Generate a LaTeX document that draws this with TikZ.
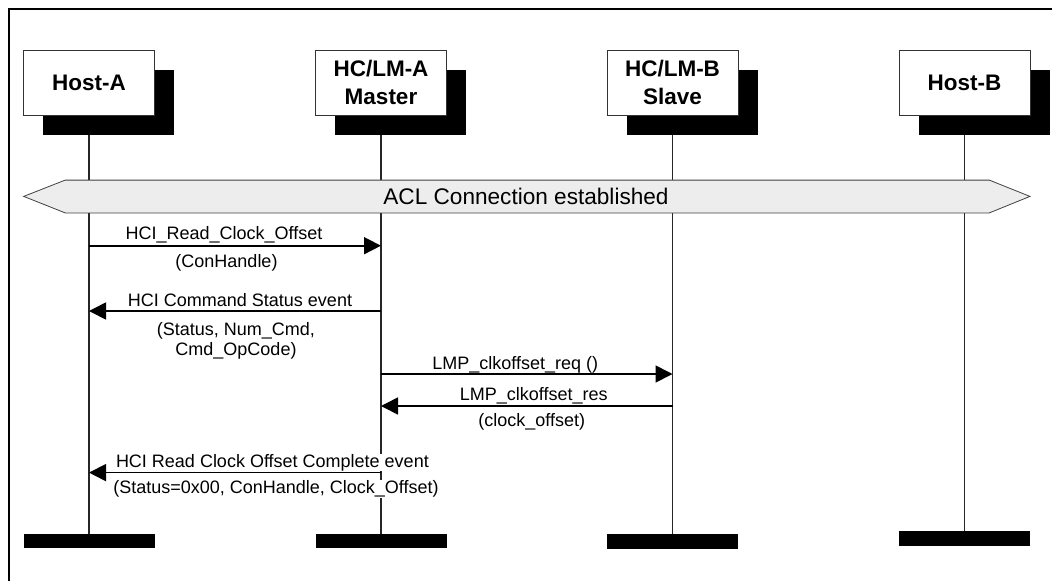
\documentclass[tikz,border=0pt]{standalone}
\usepackage{fontspec}
\setmainfont{Liberation Sans}
\usetikzlibrary{arrows.meta,shadows}

\begin{document}
\begin{tikzpicture}[x=1pt,y=-1pt,
  entity/.style={draw=black!80, line width=0.8pt, fill=white, minimum width=131pt,
    minimum height=65pt, inner sep=0pt, align=center,
    font=\fontsize{22.5}{27.7}\selectfont\bfseries,
    drop shadow={shadow xshift=19.5pt, shadow yshift=-19.5pt, fill=black, opacity=1}},
  endbar/.style={fill=black, draw=none, minimum width=131pt, minimum height=14.6pt,
    inner sep=0pt, anchor=north},
  lifeline/.style={line width=1.3pt, draw=black!85},
  msg/.style={line width=1.7pt, -{Triangle[length=17pt,width=17pt]}},
  lbl/.style={font=\fontsize{18}{20}\selectfont, fill=white, inner sep=0.5pt, anchor=base},
  aclbar/.style={draw=black!75, fill=black!7, line width=0.8pt}]

\useasboundingbox (0,0) rectangle (1052,581);

% frame
\draw[line width=2pt] (8.5,581) -- (8.5,8.5) -- (1052,8.5);

% lifeline centres
\path (89,82.5) coordinate (cA) (381,82.5) coordinate (cB) (672.5,82.5) coordinate (cC) (964.5,82.5) coordinate (cD);

% end bars
\node[endbar] (endA) at (89,533.5) {};
\node[endbar] (endB) at (381,533.5) {};
\node[endbar] (endC) at (672.5,534) {};
\node[endbar] (endD) at (964.5,530.7) {};

% lifelines
\draw[lifeline] (cA) -- (endA.north);
\draw[lifeline] (cB) -- (endB.north);
\draw[lifeline] (cC) -- (endC.north);
\draw[lifeline] (cD) -- (endD.north);

% entity boxes
\node[entity] (hostA) at (cA) {Host-A};
\node[entity] (hclmA) at (cB) {HC/LM-A\\Master};
\node[entity] (hclmB) at (cC) {HC/LM-B\\Slave};
\node[entity] (hostB) at (cD) {Host-B};

% ACL connection bar
\draw[aclbar] (23.7,196.4) -- (65.2,180.1) -- (989.3,180.1) -- (1030,196.4)
  -- (989.3,212.9) -- (65.2,212.9) -- cycle;
\node[anchor=base, font=\fontsize{22.6}{26}\selectfont, inner sep=0pt] (acl) at (526,204.5)
  {ACL Connection established};

% message labels
\node[lbl] (l1a) at (224,239.7) {HCI\_Read\_Clock\_Offset};
\node[lbl] (l1b) at (226.5,267.8) {(ConHandle)};
\node[lbl] (l2a) at (240,306) {HCI Command Status event};
\node[lbl] (l2b) at (235.8,335.4) {(Status, Num\_Cmd,};
\node[lbl] (l2c) at (236,355) {Cmd\_OpCode)};
\node[lbl] (l3a) at (515.3,369.8) {LMP\_clkoffset\_req ()};
\node[lbl] (l4a) at (533.8,400.8) {LMP\_clkoffset\_res};
\node[lbl] (l4b) at (531.7,426.5) {(clock\_offset)};
\node[lbl] (l5a) at (272.4,467.2) {HCI Read Clock Offset Complete event};
\node[lbl] (l5b) at (276,493.3) {(Status=0x00, ConHandle, Clock\_Offset)};

% message anchor points on lifelines
\coordinate (m1s) at (89,245.7);  \coordinate (m1e) at (381,245.7);
\coordinate (m2s) at (381,311);   \coordinate (m2e) at (89,311);
\coordinate (m3s) at (381,374);   \coordinate (m3e) at (672.5,374);
\coordinate (m4s) at (672.5,406); \coordinate (m4e) at (381,406);
\coordinate (m5s) at (381,472.6); \coordinate (m5e) at (89,472.6);

\draw[msg] (m1s) -- (m1e);
\draw[msg] (m2s) -- (m2e);
\draw[msg] (m3s) -- (m3e);
\draw[msg] (m4s) -- (m4e);
\draw[msg] (m5s) -- (m5e);

\end{tikzpicture}
\end{document}
